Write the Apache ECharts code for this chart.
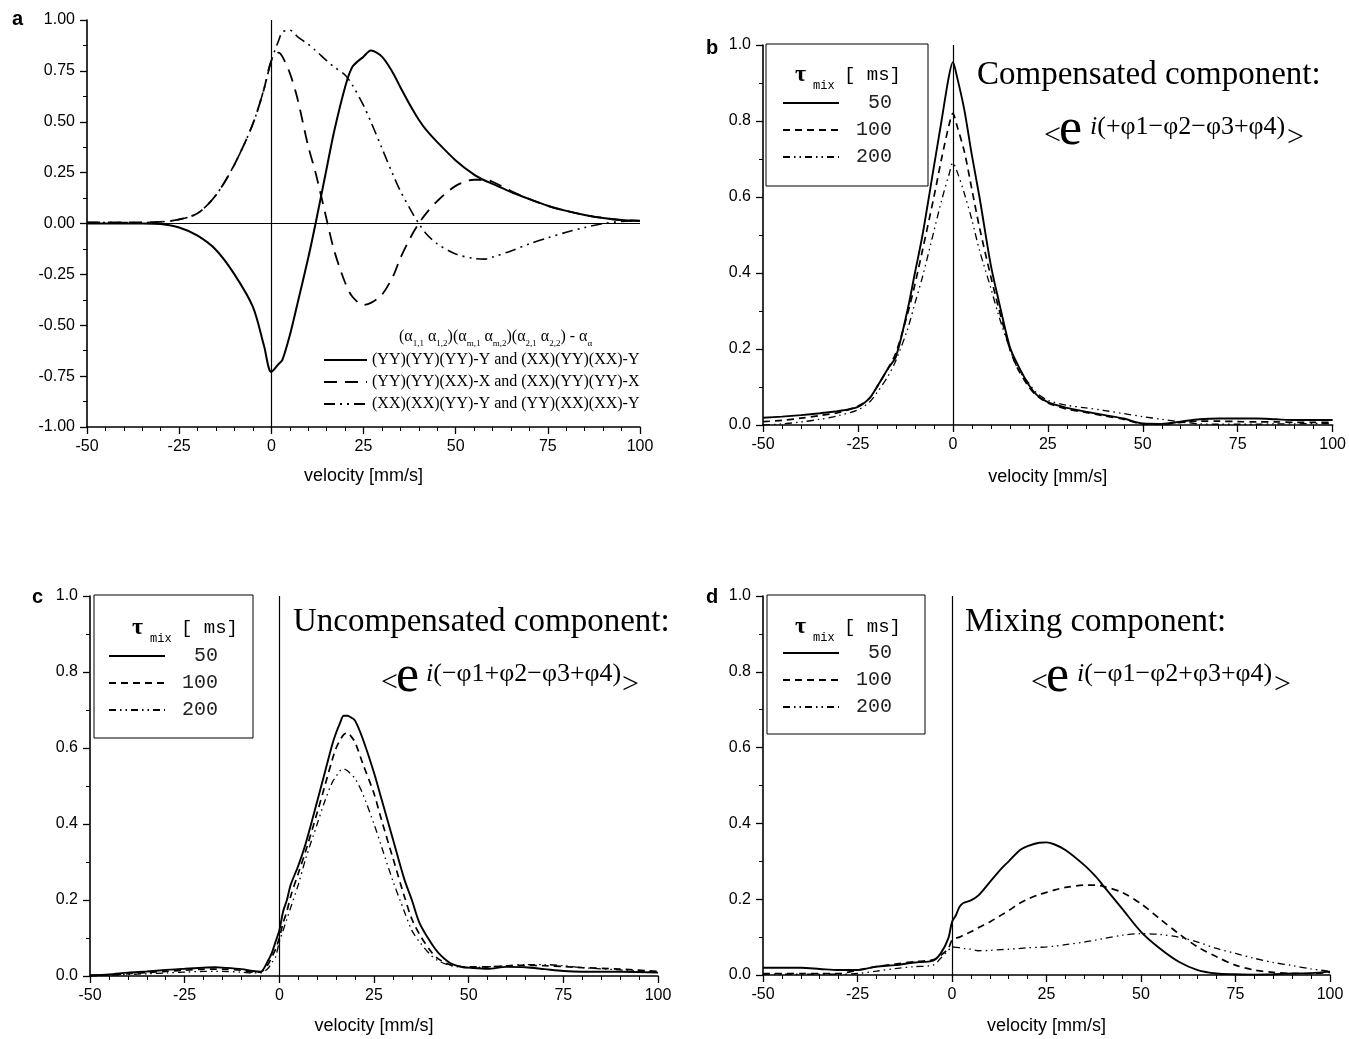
<!DOCTYPE html>
<html>
<head>
<meta charset="utf-8">
<script src="https://cdn.jsdelivr.net/npm/echarts@6/dist/echarts.min.js"></script>
</head>
<body style="margin:0;background:#fff">
<div id="main" style="width:1349px;height:1039px"></div>
<script>
// ---- panel a ----
var velA = [-50,-40,-35,-30,-25,-20,-15,-10,-5,-2,0,2,3,5,7,10,12,15,17,20,22,25,27,30,33,35,38,40,42,45,50,55,58,60,65,70,75,80,85,90,95,100];
var aYYY = [0,0,0,-0.003,-0.02,-0.06,-0.13,-0.25,-0.41,-0.6,-0.73,-0.69,-0.67,-0.55,-0.4,-0.17,0,0.27,0.45,0.67,0.77,0.82,0.85,0.82,0.74,0.67,0.57,0.51,0.46,0.4,0.31,0.24,0.21,0.195,0.155,0.12,0.087,0.062,0.042,0.027,0.017,0.013];
var aYYX = [0.005,0.005,0.005,0.008,0.02,0.05,0.14,0.29,0.49,0.66,0.8,0.84,0.82,0.74,0.62,0.38,0.25,0.02,-0.13,-0.29,-0.36,-0.4,-0.39,-0.35,-0.26,-0.17,-0.06,0,0.05,0.11,0.185,0.215,0.215,0.205,0.16,0.12,0.087,0.062,0.042,0.027,0.017,0.013];
var aXXY = [0.005,0.005,0.005,0.008,0.02,0.05,0.14,0.29,0.49,0.66,0.8,0.9,0.94,0.95,0.92,0.88,0.85,0.8,0.77,0.73,0.68,0.58,0.5,0.37,0.24,0.16,0.06,0,-0.05,-0.1,-0.15,-0.172,-0.175,-0.165,-0.135,-0.1,-0.07,-0.043,-0.02,0,0.01,0.013];
var namesA = ['(YY)(YY)(YY)-Y and (XX)(YY)(XX)-Y','(YY)(YY)(XX)-X and (XX)(YY)(YY)-X','(XX)(XX)(YY)-Y and (YY)(XX)(XX)-Y'];

// ---- panel b: compensated ----
var velB = [-50,-45,-40,-35,-30,-25,-22,-20,-17,-15,-12,-10,-8,-5,-3,-1,0,1,3,5,7,10,12,15,17,20,22,25,30,35,40,45,50,55,60,65,70,75,80,85,90,95,100];
var b50  = [0.019,0.022,0.026,0.031,0.037,0.048,0.07,0.1,0.15,0.18,0.3,0.4,0.5,0.68,0.8,0.92,0.955,0.92,0.83,0.71,0.6,0.42,0.33,0.205,0.16,0.105,0.08,0.06,0.045,0.035,0.026,0.017,0.004,0.003,0.009,0.015,0.017,0.017,0.017,0.015,0.013,0.013,0.013];
var b100 = [0.009,0.012,0.018,0.025,0.033,0.05,0.07,0.1,0.15,0.19,0.29,0.37,0.46,0.6,0.7,0.79,0.82,0.79,0.72,0.62,0.52,0.39,0.31,0.2,0.15,0.1,0.078,0.058,0.042,0.033,0.024,0.015,0.003,0.002,0.007,0.01,0.01,0.009,0.008,0.008,0.007,0.007,0.007];
var b200 = [0,0.003,0.008,0.015,0.025,0.04,0.06,0.085,0.13,0.17,0.25,0.32,0.39,0.51,0.59,0.66,0.69,0.67,0.61,0.54,0.46,0.36,0.29,0.2,0.15,0.11,0.085,0.065,0.052,0.045,0.038,0.03,0.022,0.015,0.008,0.003,0.002,0.002,0.002,0.003,0.003,0.004,0.004];

// ---- panel c: uncompensated ----
var velC = [-50,-45,-40,-35,-30,-25,-20,-17,-15,-10,-7,-5,-3,-2,-1,0,1,2,3,5,7,10,12,14,15,16,17,18,19,20,22,25,27,30,33,35,37,40,42,45,48,50,55,60,65,70,75,80,90,100];
var c50  = [0.002,0.004,0.009,0.012,0.016,0.019,0.022,0.023,0.022,0.018,0.013,0.011,0.04,0.06,0.09,0.12,0.17,0.2,0.24,0.29,0.35,0.46,0.535,0.61,0.64,0.665,0.685,0.685,0.68,0.672,0.625,0.535,0.465,0.36,0.255,0.2,0.14,0.088,0.061,0.035,0.024,0.022,0.019,0.024,0.023,0.018,0.013,0.011,0.011,0.009];
var c100 = [0.001,0.003,0.006,0.009,0.012,0.015,0.018,0.018,0.018,0.015,0.01,0.01,0.03,0.05,0.07,0.1,0.14,0.17,0.21,0.27,0.33,0.43,0.5,0.57,0.6,0.62,0.635,0.64,0.63,0.615,0.56,0.48,0.41,0.31,0.21,0.15,0.11,0.065,0.045,0.03,0.025,0.024,0.024,0.027,0.028,0.027,0.025,0.022,0.018,0.012];
var c200 = [0,0.002,0.004,0.006,0.008,0.01,0.012,0.012,0.012,0.01,0.008,0.008,0.02,0.035,0.05,0.09,0.12,0.15,0.18,0.24,0.31,0.4,0.46,0.51,0.525,0.54,0.545,0.54,0.53,0.52,0.48,0.4,0.34,0.25,0.17,0.12,0.09,0.055,0.04,0.028,0.023,0.022,0.024,0.027,0.03,0.03,0.027,0.022,0.016,0.01];

// ---- panel d: mixing ----
var velD = [-50,-40,-35,-30,-25,-20,-15,-10,-5,-3,-1,0,1,2,3,5,7,10,13,15,18,20,23,25,27,30,35,38,40,45,50,55,60,65,70,75,80,85,90,95,100];
var d50  = [0.019,0.019,0.016,0.013,0.013,0.022,0.026,0.033,0.038,0.057,0.096,0.14,0.157,0.18,0.19,0.197,0.21,0.245,0.28,0.3,0.33,0.34,0.349,0.35,0.345,0.33,0.29,0.26,0.236,0.175,0.114,0.07,0.035,0.013,0.004,0.002,0.001,0.002,0.004,0.005,0.009];
var d100 = [0.004,0.004,0.004,0.004,0.013,0.022,0.029,0.035,0.04,0.052,0.07,0.092,0.097,0.1,0.105,0.114,0.125,0.14,0.158,0.17,0.19,0.2,0.212,0.218,0.224,0.231,0.237,0.237,0.234,0.218,0.188,0.148,0.109,0.074,0.048,0.026,0.013,0.007,0.004,0.004,0.007];
var d200 = [0.002,0.002,0.002,0.002,0.004,0.01,0.017,0.022,0.026,0.044,0.065,0.074,0.073,0.072,0.07,0.068,0.064,0.065,0.067,0.068,0.07,0.072,0.073,0.074,0.076,0.08,0.087,0.092,0.096,0.105,0.109,0.107,0.1,0.087,0.07,0.057,0.044,0.033,0.025,0.016,0.01];

var tauNames = ['50','100','200'];

var SANS = 'Liberation Sans, Arial, sans-serif';
var SERIF = 'Liberation Serif, Times New Roman, serif';
var MONO = 'Liberation Mono, monospace';

var SOLID = {color:'#000', width:1.9, type:'solid'};
var DASH = {color:'#000', width:1.7, type:[7,5]};
var DDOT = {color:'#000', width:1.3, type:[7,4,1.5,4,1.5,4]};

function pts(xs, ys) {
    return xs.map(function (x, i) { return [x, ys[i]]; });
}

function line(name, idx, xs, ys, st) {
    return {
        name: name, type: 'line', xAxisIndex: idx, yAxisIndex: idx,
        data: pts(xs, ys), symbol: 'none', smooth: 0.3,
        lineStyle: st, itemStyle: {color: '#000'}, silent: true
    };
}

function zeroLines(withH) {
    var d = [{xAxis: 0}];
    if (withH) d.push({yAxis: 0});
    return {
        silent: true, symbol: ['none','none'], label: {show: false},
        lineStyle: {color: '#000', width: 1.2, type: 'solid'},
        emphasis: {disabled: true}, data: d
    };
}

function xAx(i, gap) {
    return {
        gridIndex: i, type: 'value', min: -50, max: 100, interval: 25,
        name: 'velocity [mm/s]', nameLocation: 'middle', nameGap: gap,
        nameTextStyle: {fontFamily: SANS, fontSize: 18, color: '#000'},
        axisLine: {show: true, onZero: false, lineStyle: {color: '#000', width: 1.6}},
        axisTick: {show: true, inside: false, length: 7, lineStyle: {color: '#000', width: 1.3}},
        minorTick: {show: true, splitNumber: 5, length: 4, lineStyle: {color: '#000', width: 1}},
        splitLine: {show: false},
        axisLabel: {fontFamily: SANS, fontSize: 16, color: '#000', margin: 12}
    };
}

function yAx(i, mn, step, dec) {
    return {
        gridIndex: i, type: 'value', min: mn, max: 1, interval: step,
        axisLine: {show: true, onZero: false, lineStyle: {color: '#000', width: 1.6}},
        axisTick: {show: true, inside: false, length: 7, lineStyle: {color: '#000', width: 1.3}},
        minorTick: {show: true, splitNumber: 2, length: 4, lineStyle: {color: '#000', width: 1}},
        splitLine: {show: false},
        axisLabel: {fontFamily: SANS, fontSize: 16, color: '#000', margin: 12,
            formatter: function (v) { return v.toFixed(dec); }}
    };
}

function tauLegend(left, top, pad) {
    return {
        data: tauNames, orient: 'vertical', left: left, top: top, padding: pad,
        itemWidth: 56, itemHeight: 20, itemGap: 7, selectedMode: false,
        borderColor: '#000', borderWidth: 1, backgroundColor: '#fff',
        itemStyle: {opacity: 0},
        formatter: function (n) { return n.length === 2 ? '  ' + n : ' ' + n; },
        textStyle: {fontFamily: MONO, fontSize: 20, color: '#222', lineHeight: 20}
    };
}

function txt(x, y, s, font, align) {
    return {type: 'text', x: x, y: y, z: 10, style: {
        text: s, font: font, fill: '#000',
        align: align || 'left', verticalAlign: 'middle',
        textAlign: align || 'left', textVerticalAlign: 'middle'}};
}

function tauHead(x, y, fs) {
    return [
        txt(x, y, 'τ', 'bold 24px ' + SERIF),
        txt(x + 18, y + 11, 'mix', '12px ' + MONO),
        txt(x + 49, y, '[ ms]', fs + 'px ' + MONO)
    ];
}

function formula(x1, x2, x3, x4, ty, sup) {
    return [
        txt(x1, ty + 61, '<', '30px ' + SERIF),
        txt(x2, ty + 55, 'e', '52px ' + SERIF),
        {type: 'text', x: x3, y: ty + 52, z: 10, style: {
            text: '{i|i}{n|' + sup + '}',
            rich: {
                i: {fontFamily: SERIF, fontStyle: 'italic', fontSize: 26, color: '#000'},
                n: {fontFamily: SERIF, fontSize: 26, color: '#000'}
            },
            align: 'left', verticalAlign: 'middle', textAlign: 'left', textVerticalAlign: 'middle'}},
        txt(x4, ty + 63, '>', '30px ' + SERIF)
    ];
}

var aHead = {type: 'text', x: 399, y: 337, z: 10, style: {
    text: '{n|(α}{s|1,1}{n| α}{s|1,2}{n|)(α}{s|m,1}{n| α}{s|m,2}{n|)(α}{s|2,1}{n| α}{s|2,2}{n|) - α}{s|α}',
    rich: {
        n: {fontFamily: SERIF, fontSize: 16, color: '#000', lineHeight: 22},
        s: {fontFamily: SERIF, fontSize: 9, color: '#000', lineHeight: 9, verticalAlign: 'bottom'}
    },
    align: 'left', verticalAlign: 'middle', textAlign: 'left', textVerticalAlign: 'middle'}};

var graphics = [
    txt(12, 19, 'a', 'bold 20px ' + SANS),
    txt(706, 48, 'b', 'bold 20px ' + SANS),
    txt(32, 597, 'c', 'bold 20px ' + SANS),
    txt(706, 597, 'd', 'bold 20px ' + SANS),
    aHead,
    txt(977, 75, 'Compensated component:', '33px ' + SERIF),
    txt(293, 622, 'Uncompensated component:', '33px ' + SERIF),
    txt(965, 622, 'Mixing component:', '33px ' + SERIF)
].concat(
    formula(1044, 1059, 1090, 1287, 75, '(+φ1−φ2−φ3+φ4)'),
    formula(381, 396, 426, 622, 622, '(−φ1+φ2−φ3+φ4)'),
    formula(1031, 1046, 1077, 1274, 622, '(−φ1−φ2+φ3+φ4)'),
    tauHead(795, 75, 19),
    tauHead(132, 628, 19),
    tauHead(795, 627, 19)
);

var series = [
    line(namesA[0], 0, velA, aYYY, {color:'#000', width:2, type:'solid'}),
    line(namesA[1], 0, velA, aYYX, {color:'#000', width:1.8, type:[13,8]}),
    line(namesA[2], 0, velA, aXXY, {color:'#000', width:1.6, type:[11,5,2,5,2,5]}),
    line('50', 1, velB, b50, SOLID),
    line('100', 1, velB, b100, DASH),
    line('200', 1, velB, b200, DDOT),
    line('50', 2, velC, c50, SOLID),
    line('100', 2, velC, c100, DASH),
    line('200', 2, velC, c200, DDOT),
    line('50', 3, velD, d50, SOLID),
    line('100', 3, velD, d100, DASH),
    line('200', 3, velD, d200, DDOT)
];
series[0].markLine = zeroLines(true);
series[3].markLine = zeroLines(false);
series[6].markLine = zeroLines(false);
series[9].markLine = zeroLines(false);

var myChart = echarts.init(document.getElementById('main'));
var option = {
    animation: false,
    backgroundColor: '#fff',
    grid: [
        {left: 87, top: 20, width: 553, height: 407},
        {left: 763, top: 45, width: 570, height: 380},
        {left: 90, top: 596, width: 568, height: 380},
        {left: 763, top: 596, width: 567, height: 379}
    ],
    xAxis: [xAx(0, 40), xAx(1, 43), xAx(2, 41), xAx(3, 42)],
    yAxis: [yAx(0, -1, 0.25, 2), yAx(1, 0, 0.2, 1), yAx(2, 0, 0.2, 1), yAx(3, 0, 0.2, 1)],
    legend: [
        {data: namesA, orient: 'vertical', left: 323, top: 352, padding: 0,
         itemWidth: 43, itemHeight: 16, itemGap: 6, selectedMode: false,
         itemStyle: {opacity: 0},
         textStyle: {fontFamily: SERIF, fontSize: 16, color: '#000', lineHeight: 16}},
        tauLegend(766, 44, [49, 36, 19, 16]),
        tauLegend(94, 595, [51, 35, 18, 14]),
        tauLegend(767, 595, [48, 33, 17, 15])
    ],
    graphic: graphics,
    series: series
};
myChart.setOption(option);
</script>
</body>
</html>
